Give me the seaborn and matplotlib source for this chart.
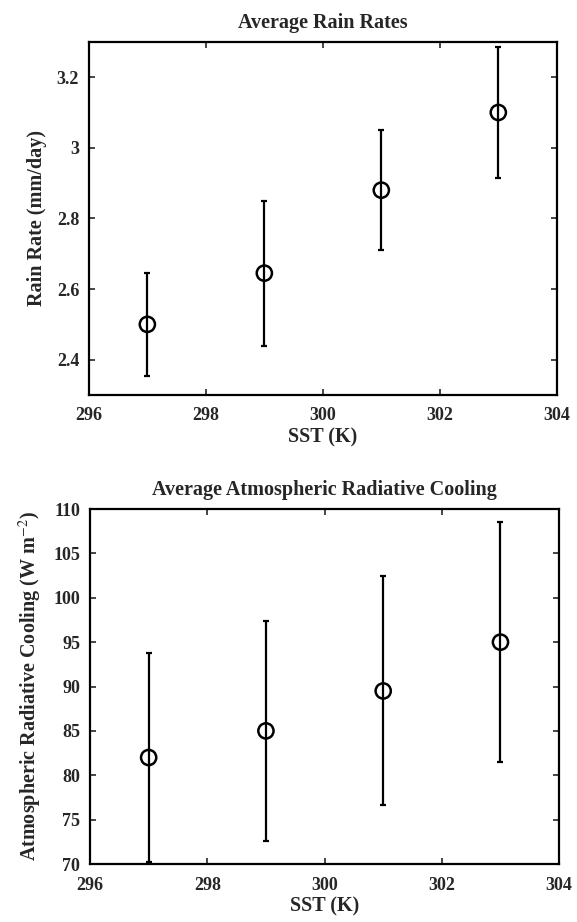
import matplotlib
matplotlib.use("Agg")
import matplotlib.pyplot as plt
import seaborn as sns
import pandas as pd
from matplotlib.ticker import FuncFormatter

# Sea surface temperatures of the experiments (K)
sst = [297, 299, 301, 303]

# Domain-averaged rain rates and their spread (mm/day)
rain_rate = [2.50, 2.645, 2.88, 3.10]
rain_err = [0.145, 0.205, 0.17, 0.185]

# Atmospheric radiative cooling and its spread (W m^-2)
rad_cool = [82.0, 85.0, 89.5, 95.0]
rad_err = [11.8, 12.4, 12.9, 13.5]

xticks = [296, 298, 300, 302, 304]
rain_ticks = [2.4, 2.6, 2.8, 3.0, 3.2]
cool_ticks = [70, 75, 80, 85, 90, 95, 100, 105, 110]

sns.set_style("ticks")
plt.rcParams["font.family"] = ["Liberation Serif", "DejaVu Serif"]
plt.rcParams["mathtext.fontset"] = "stix"

fig = plt.figure(figsize=(5.77, 9.22), dpi=100)
ax1 = fig.add_axes([0.154, 0.5716, 0.811, 0.383])
ax2 = fig.add_axes([0.156, 0.0629, 0.813, 0.385])

tick_fs = 13
label_fs = 14.5
panels = [
    (ax1, rain_rate, rain_err, (2.3, 3.3), rain_ticks,
     "Rain Rate (mm/day)", "Average Rain Rates"),
    (ax2, rad_cool, rad_err, (70, 110), cool_ticks,
     "Atmospheric Radiative Cooling (W m$^{-2}$)",
     "Average Atmospheric Radiative Cooling"),
]

fmt = FuncFormatter(lambda v, p: f"{v:g}")

for ax, vals, errs, ylim, yt, ylab, title in panels:
    df = pd.DataFrame({"SST": sst, "val": vals, "err": errs})
    ax.errorbar(df["SST"], df["val"], yerr=df["err"], fmt="none",
                ecolor="black", elinewidth=1.6, capsize=2, capthick=1.6,
                zorder=2, clip_on=True)
    sns.scatterplot(data=df, x="SST", y="val", ax=ax, marker="o", s=120,
                    facecolor="none", edgecolor="black", linewidth=1.8,
                    zorder=3)
    ax.set_xlim(296, 304)
    ax.set_ylim(*ylim)
    ax.set_xticks(xticks)
    ax.set_yticks(yt)
    ax.xaxis.set_major_formatter(fmt)
    ax.yaxis.set_major_formatter(fmt)
    ax.tick_params(axis="both", direction="in", length=4, width=1.2,
                   top=True, right=True, labelsize=tick_fs)
    ax.tick_params(axis="x", pad=9)
    ax.tick_params(axis="y", pad=7)
    for lab in ax.get_xticklabels() + ax.get_yticklabels():
        lab.set_fontweight("bold")
    for sp in ax.spines.values():
        sp.set_linewidth(1.6)
        sp.set_color("black")
    ax.set_xlabel("SST (K)", fontsize=label_fs, fontweight="bold", labelpad=2)
    ax.set_ylabel(ylab, fontsize=label_fs, fontweight="bold", labelpad=7)
    ax.set_title(title, fontsize=label_fs, fontweight="bold", pad=10)

fig.savefig("out.png", dpi=100)
